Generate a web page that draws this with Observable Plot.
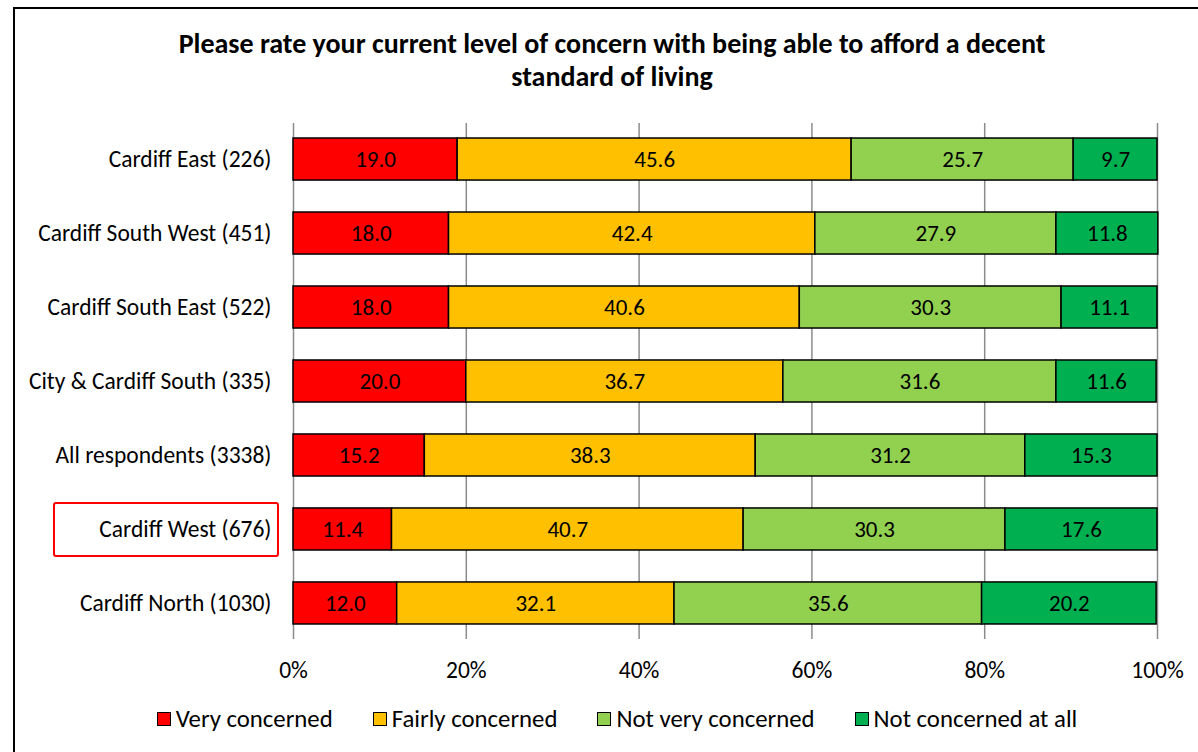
<!DOCTYPE html>
<html>
<head>
<meta charset="utf-8">
<script src="https://cdn.jsdelivr.net/npm/d3@7"></script>
<script src="https://cdn.jsdelivr.net/npm/@observablehq/plot@0.6"></script>
<style>
  html, body { margin: 0; background: #fff; overflow: hidden; width: 1198px; height: 752px; font-family: Carlito, Calibri, Lato, sans-serif; }
  #frame { position: absolute; left: 13px; top: 7px; width: 1300px; height: 800px; border: 2px solid #000; box-sizing: border-box; }
  #title { position: absolute; left: 0; width: 1224px; top: 27px; text-align: center; font-weight: bold; font-size: 28px; line-height: 33px; color: #000; }
  #chart { position: absolute; left: 0; top: 0; }
  #hl { position: absolute; left: 53px; top: 502px; width: 226px; height: 55px; border: 2px solid #f00; border-radius: 3px; box-sizing: border-box; }
  #legend { position: absolute; left: 0; width: 1234px; top: 704px; display: flex; justify-content: center; gap: 40px; font-size: 24.8px; line-height: 30px; color: #000; }
  #legend .it { display: flex; align-items: center; }
  #legend .sw { width: 14px; height: 14px; border: 1.2px solid #000; margin-right: 5px; box-sizing: border-box; }
</style>
</head>
<body>
<div id="frame"></div>
<div id="title">Please rate your current level of concern with being able to afford a decent<br>standard of living</div>
<div id="chart"></div>
<div id="hl"></div>
<div id="legend"></div>
<script>
const regions = ["Cardiff East (226)", "Cardiff South West (451)", "Cardiff South East (522)", "City & Cardiff South (335)", "All respondents (3338)", "Cardiff West (676)", "Cardiff North (1030)"];
const seriesNames = ["Very concerned", "Fairly concerned", "Not very concerned", "Not concerned at all"];
const veryConcerned = [19.0, 18.0, 18.0, 20.0, 15.2, 11.4, 12.0];
const fairlyConcerned = [45.6, 42.4, 40.6, 36.7, 38.3, 40.7, 32.1];
const notVeryConcerned = [25.7, 27.9, 30.3, 31.6, 31.2, 30.3, 35.6];
const notConcernedAtAll = [9.7, 11.8, 11.1, 11.6, 15.3, 17.6, 20.2];
const xTicks = [0, 20, 40, 60, 80, 100];
const colors = ["#FF0000", "#FFC000", "#92D050", "#00B050"];

const seriesValues = [veryConcerned, fairlyConcerned, notVeryConcerned, notConcernedAtAll];
const data = [];
regions.forEach((r, i) => {
  seriesNames.forEach((s, j) => data.push({region: r, series: s, value: seriesValues[j][i]}));
});

const font = "Carlito, Calibri, Lato, sans-serif";
const chart = Plot.plot({
  width: 1198,
  height: 700,
  marginLeft: 293,
  marginRight: 41,
  marginTop: 123,
  marginBottom: 61,
  style: {fontFamily: font, fontSize: "23px", color: "#000", background: "transparent"},
  x: {domain: [0, 100], ticks: xTicks, tickFormat: d => d + "%"},
  y: {domain: regions, paddingInner: 0.432, paddingOuter: 0.203, align: 0.5, round: false},
  color: {domain: seriesNames, range: colors},
  marks: [
    Plot.ruleX(xTicks, {stroke: "#8c8c8c", strokeWidth: 1.5}),
    Plot.barX(data, Plot.stackX({x: "value", y: "region", fill: "series", stroke: "#000", strokeWidth: 1.5})),
    Plot.text(data, Plot.stackX({x: "value", y: "region", z: "series", text: d => d.value.toFixed(1), fill: "#000", fontSize: 23})),
    Plot.axisX({ticks: xTicks, tickFormat: d => d + "%", tickSize: 0, tickPadding: 22, fontSize: 23.5, label: null}),
    Plot.axisY({tickSize: 0, tickPadding: 22, fontSize: 23.5, label: null})
  ]
});
document.getElementById("chart").appendChild(chart);

const legend = document.getElementById("legend");
seriesNames.forEach((s, j) => {
  const it = document.createElement("div");
  it.className = "it";
  const sw = document.createElement("div");
  sw.className = "sw";
  sw.style.background = colors[j];
  const t = document.createElement("span");
  t.textContent = s;
  it.appendChild(sw); it.appendChild(t);
  legend.appendChild(it);
});
</script>
</body>
</html>
